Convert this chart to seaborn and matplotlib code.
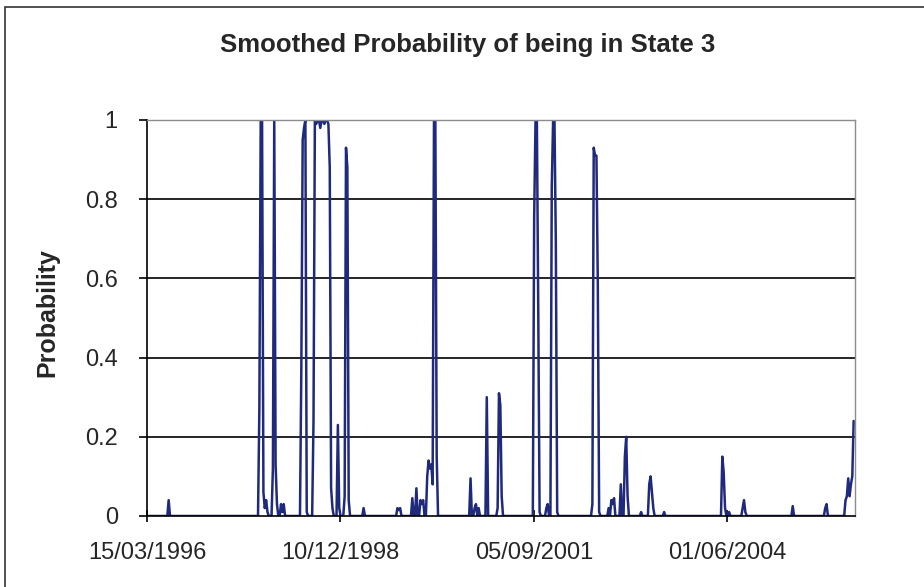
import pandas as pd
import numpy as np
import matplotlib
matplotlib.use("Agg")
import matplotlib.pyplot as plt
import matplotlib.dates as mdates
from matplotlib.patches import Rectangle
import seaborn as sns

# weekly smoothed probabilities (zero between the listed weeks)
start_date = "1996-03-15"
n_weeks = 523
spike_week = [16,
              83, 84, 85, 86, 87, 88, 89,
              93, 94, 95, 96, 99, 100, 101,
              114, 115, 116, 117, 118,
              123, 124, 125, 126, 127, 128, 129, 130, 131, 132, 133, 134, 135, 136, 137,
              141, 142, 146, 147, 148, 149, 160,
              185, 186, 187, 196, 199, 202, 203, 204,
              207, 208, 209, 210, 211, 212, 213, 214,
              239, 242, 243, 245, 251, 259, 260, 261, 262,
              286, 287, 288, 289, 290, 295, 296,
              299, 300, 301, 302, 303,
              329, 330, 331, 332, 333, 334,
              341, 343, 344, 345, 350, 353, 354, 355,
              365, 371, 372, 373, 374, 382,
              425, 426, 427, 430, 440, 441, 442, 477,
              501, 502, 516, 517, 518, 519, 520, 521, 522]
spike_prob = [0.04,
              0.27, 1.0, 1.0, 0.06, 0.02, 0.04, 0.01,
              0.12, 1.0, 0.13, 0.03, 0.03, 0.01, 0.03,
              0.37, 0.95, 0.98, 1.0, 0.01,
              0.24, 1.0, 0.99, 1.0, 1.0, 0.98, 1.0, 1.0, 0.99, 1.0, 1.0, 0.99, 0.88, 0.07, 0.02,
              0.23, 0.02, 0.05, 0.93, 0.88, 0.04, 0.02,
              0.02, 0.015, 0.02, 0.045, 0.07, 0.04, 0.03, 0.04,
              0.10, 0.14, 0.12, 0.13, 0.08, 1.0, 1.0, 0.15,
              0.095, 0.02, 0.03, 0.02, 0.30, 0.02, 0.31, 0.28, 0.05,
              0.755, 1.0, 1.0, 0.53, 0.01, 0.02, 0.03,
              0.83, 1.0, 1.0, 0.69, 0.01,
              0.03, 0.93, 0.91, 0.91, 0.59, 0.01,
              0.02, 0.04, 0.03, 0.045, 0.08, 0.15, 0.20, 0.05,
              0.01, 0.08, 0.10, 0.06, 0.02, 0.01,
              0.15, 0.11, 0.02, 0.01, 0.02, 0.04, 0.01, 0.025,
              0.02, 0.03, 0.04, 0.05, 0.095, 0.05, 0.08, 0.10, 0.24]
tick_dates = ["1996-03-15", "1998-12-10", "2001-09-05", "2004-06-01"]
y_ticks = [0, 0.2, 0.4, 0.6, 0.8, 1.0]
y_tick_labels = ["0", "0.2", "0.4", "0.6", "0.8", "1"]

dates = pd.date_range(start_date, periods=n_weeks, freq="7D")
prob = pd.Series(0.0, index=range(n_weeks))
prob[spike_week] = spike_prob
df = pd.DataFrame({"date": dates, "prob": prob.values})

sns.set_style("white")
plt.rcParams["font.family"] = ["Liberation Sans", "DejaVu Sans"]

fig = plt.figure(figsize=(9.24, 5.87), dpi=100)
ax = fig.add_axes([147 / 924, 1 - 516 / 587, 708 / 924, 396 / 587])

sns.lineplot(data=df, x="date", y="prob", color="#1f2a7c", linewidth=1.8, ax=ax)

ax.set_ylim(0, 1)
ax.set_xlim(pd.Timestamp(start_date), pd.Timestamp("2006-03-24"))
ax.set_yticks(y_ticks)
ax.set_yticklabels(y_tick_labels)
ax.set_xticks(pd.to_datetime(tick_dates))
ax.xaxis.set_major_formatter(mdates.DateFormatter("%d/%m/%Y"))

ax.grid(axis="y", color="black", linewidth=1.2)
ax.yaxis.get_gridlines()[-1].set_visible(False)
ax.yaxis.get_gridlines()[0].set_visible(False)
ax.set_axisbelow(True)

for side in ["left", "bottom"]:
    ax.spines[side].set_color("black")
    ax.spines[side].set_linewidth(1.2)
for side in ["top", "right"]:
    ax.spines[side].set_color("#8c8c8c")
    ax.spines[side].set_linewidth(1.0)

ax.tick_params(axis="y", direction="out", length=6, width=1.2, color="black",
               labelsize=17, pad=15, left=True)
ax.tick_params(axis="x", direction="inout", length=9, width=1.2, color="black",
               labelsize=17, pad=14, bottom=True)

ax.set_xlabel("")
ax.set_ylabel("")
fig.text(47 / 924, 1 - 313 / 587, "Probability", rotation=90,
         ha="center", va="center", fontsize=18, fontweight="bold")
fig.text(468 / 924, 1 - 45 / 587, "Smoothed Probability of being in State 3",
         ha="center", va="center", fontsize=18.5, fontweight="bold")

# chart-area frame (continues past the right and bottom edges)
fig.patches.append(Rectangle((5 / 924, -0.1), 1.2, 1.1 - 7 / 587,
                             transform=fig.transFigure, fill=False,
                             edgecolor="#333333", linewidth=1.2))

fig.savefig("out.png", dpi=100)
